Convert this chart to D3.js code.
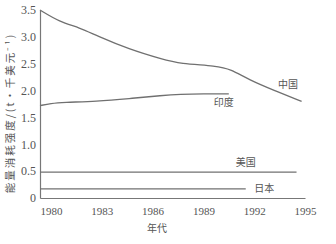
<!DOCTYPE html>
<html>
<head>
<meta charset="utf-8">
<script src="https://cdn.jsdelivr.net/npm/d3@7"></script>
<style>
  body { margin: 0; background: #fff; }
  text { fill: #555; }
</style>
</head>
<body>
<div id="chart"></div>
<script>
// data (year, t per thousand USD)
var chinaYears = [1979.35, 1980.5, 1981.7, 1982.7, 1984.6, 1986.6, 1987.6, 1989.8, 1990.6, 1991.7, 1993.2, 1994.8];
var chinaVals  = [3.5, 3.28, 3.17, 3.02, 2.77, 2.58, 2.5, 2.46, 2.4, 2.2, 2.0, 1.8];
var indiaYears = [1979.35, 1980.0, 1980.7, 1982.7, 1984.6, 1986.6, 1987.6, 1989.0, 1990.5];
var indiaVals  = [1.72, 1.76, 1.78, 1.8, 1.85, 1.91, 1.93, 1.94, 1.94];
var usaYears = [1979.35, 1994.5];
var usaVals  = [0.48, 0.48];
var japanYears = [1979.35, 1991.5];
var japanVals  = [0.17, 0.17];
var xTicks = [1980, 1983, 1986, 1989, 1992, 1995];
var yTicks = [0, 0.5, 1.0, 1.5, 2.0, 2.5, 3.0, 3.5];

var svg = d3.select('#chart').append('svg')
  .attr('width', 336)
  .attr('height', 244);

var x = d3.scaleLinear().domain([1979.35, 1995]).range([40, 305]);
var y = d3.scaleLinear().domain([0, 3.5]).range([198, 10]);

// axes (no tick marks, just lines + labels)
var xAxis = svg.append('g').attr('transform', 'translate(0,198)')
  .call(d3.axisBottom(x).tickValues(xTicks).tickSize(0).tickPadding(9).tickFormat(d3.format('d')));
xAxis.select('.domain').attr('stroke', '#777').attr('stroke-width', 1.2);
xAxis.selectAll('text').attr('font-family', 'Liberation Serif').attr('font-size', 11).attr('fill', '#777');

var yAxis = svg.append('g').attr('transform', 'translate(40,0)')
  .call(d3.axisLeft(y).tickValues(yTicks).tickSize(0).tickPadding(4)
    .tickFormat(function(d) { return d === 0 ? '0' : d.toFixed(1); }));
yAxis.select('.domain').attr('stroke', '#777').attr('stroke-width', 1.2);
yAxis.selectAll('text').attr('font-family', 'Liberation Serif').attr('font-size', 12).attr('fill', '#8a8a8a');

var line = d3.line().curve(d3.curveBasis);

function series(xs, vs) {
  return xs.map(function(d, i) { return [x(d), y(vs[i])]; });
}

[[chinaYears, chinaVals], [indiaYears, indiaVals], [usaYears, usaVals], [japanYears, japanVals]]
  .forEach(function(s) {
    svg.append('path')
      .attr('d', line(series(s[0], s[1])))
      .attr('fill', 'none')
      .attr('stroke', '#707070')
      .attr('stroke-width', 1.3);
  });

// series labels
var labels = [
  { t: '中国', yr: 1994.0, v: 2.05 },
  { t: '印度', yr: 1990.2, v: 1.72 },
  { t: '美国', yr: 1991.5, v: 0.6 },
  { t: '日本', yr: 1992.6, v: 0.12 }
];
svg.selectAll('.lbl').data(labels).enter().append('text')
  .attr('class', 'lbl')
  .attr('x', function(d) { return x(d.yr); })
  .attr('y', function(d) { return y(d.v); })
  .attr('text-anchor', 'middle')
  .attr('font-family', 'Noto Sans CJK SC')
  .attr('font-size', 10)
  .attr('fill', '#555')
  .text(function(d) { return d.t; });

// axis titles
svg.append('text')
  .attr('x', 157).attr('y', 232)
  .attr('text-anchor', 'middle')
  .attr('font-family', 'Noto Sans CJK SC')
  .attr('font-size', 10)
  .text('年代');

svg.append('text')
  .attr('transform', 'translate(14,113) rotate(-90)')
  .attr('text-anchor', 'middle')
  .attr('font-family', 'Noto Sans CJK SC')
  .attr('font-size', 10.5)
  .attr('letter-spacing', 2)
  .text('能量消耗强度/(t·千美元⁻¹)');
</script>
</body>
</html>
